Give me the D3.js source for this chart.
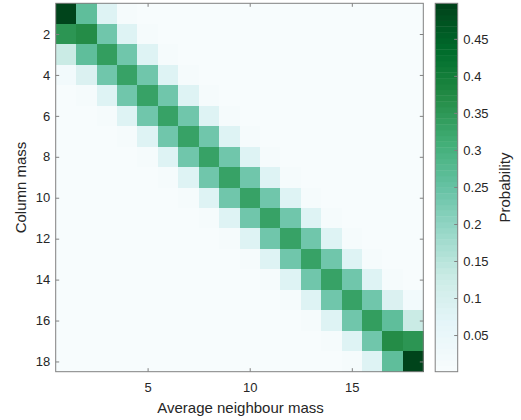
<!DOCTYPE html>
<html>
<head>
<meta charset="utf-8">
<script src="https://cdn.jsdelivr.net/npm/d3@7"></script>
<style>
  html, body { margin: 0; padding: 0; background: #fff; }
  svg { display: block; }
  text { font-family: "Liberation Sans", Arial, Helvetica, sans-serif; fill: #262626; }
</style>
</head>
<body>
<svg id="chart" width="521" height="420"></svg>
<script>
// Transition probabilities: rows = column mass (1..18), columns = average neighbour mass (1..18)
const columnMass = d3.range(1, 19);
const neighbourMass = d3.range(1, 19);
const probability = [
  [0.498,0.262,0.085,0.015,0.0013,0.0005,0.0005,0.0005,0.0005,0.0005,0.0005,0.0005,0.0005,0.0005,0.0005,0.0005,0.0005,0.0005],
  [0.354,0.370,0.240,0.083,0.015,0.0013,0.0005,0.0005,0.0005,0.0005,0.0005,0.0005,0.0005,0.0005,0.0005,0.0005,0.0005,0.0005],
  [0.125,0.262,0.338,0.236,0.083,0.015,0.0013,0.0005,0.0005,0.0005,0.0005,0.0005,0.0005,0.0005,0.0005,0.0005,0.0005,0.0005],
  [0.022,0.092,0.240,0.333,0.236,0.083,0.015,0.0013,0.0005,0.0005,0.0005,0.0005,0.0005,0.0005,0.0005,0.0005,0.0005,0.0005],
  [0.002,0.016,0.085,0.236,0.333,0.236,0.083,0.015,0.0013,0.0005,0.0005,0.0005,0.0005,0.0005,0.0005,0.0005,0.0005,0.0005],
  [0.0005,0.0015,0.015,0.083,0.236,0.333,0.236,0.083,0.015,0.0013,0.0005,0.0005,0.0005,0.0005,0.0005,0.0005,0.0005,0.0005],
  [0.0005,0.0005,0.0013,0.015,0.083,0.236,0.333,0.236,0.083,0.015,0.0013,0.0005,0.0005,0.0005,0.0005,0.0005,0.0005,0.0005],
  [0.0005,0.0005,0.0005,0.0013,0.015,0.083,0.236,0.333,0.236,0.083,0.015,0.0013,0.0005,0.0005,0.0005,0.0005,0.0005,0.0005],
  [0.0005,0.0005,0.0005,0.0005,0.0013,0.015,0.083,0.236,0.333,0.236,0.083,0.015,0.0013,0.0005,0.0005,0.0005,0.0005,0.0005],
  [0.0005,0.0005,0.0005,0.0005,0.0005,0.0013,0.015,0.083,0.236,0.333,0.236,0.083,0.015,0.0013,0.0005,0.0005,0.0005,0.0005],
  [0.0005,0.0005,0.0005,0.0005,0.0005,0.0005,0.0013,0.015,0.083,0.236,0.333,0.236,0.083,0.015,0.0013,0.0005,0.0005,0.0005],
  [0.0005,0.0005,0.0005,0.0005,0.0005,0.0005,0.0005,0.0013,0.015,0.083,0.236,0.333,0.236,0.083,0.015,0.0013,0.0005,0.0005],
  [0.0005,0.0005,0.0005,0.0005,0.0005,0.0005,0.0005,0.0005,0.0013,0.015,0.083,0.236,0.333,0.236,0.083,0.015,0.0015,0.0005],
  [0.0005,0.0005,0.0005,0.0005,0.0005,0.0005,0.0005,0.0005,0.0005,0.0013,0.015,0.083,0.236,0.333,0.236,0.085,0.016,0.002],
  [0.0005,0.0005,0.0005,0.0005,0.0005,0.0005,0.0005,0.0005,0.0005,0.0005,0.0013,0.015,0.083,0.236,0.333,0.240,0.092,0.022],
  [0.0005,0.0005,0.0005,0.0005,0.0005,0.0005,0.0005,0.0005,0.0005,0.0005,0.0005,0.0013,0.015,0.083,0.236,0.338,0.262,0.125],
  [0.0005,0.0005,0.0005,0.0005,0.0005,0.0005,0.0005,0.0005,0.0005,0.0005,0.0005,0.0005,0.0013,0.015,0.083,0.240,0.370,0.354],
  [0.0005,0.0005,0.0005,0.0005,0.0005,0.0005,0.0005,0.0005,0.0005,0.0005,0.0005,0.0005,0.0005,0.0013,0.015,0.085,0.262,0.498]
];
const xTicks = [5, 10, 15];
const yTicks = [2, 4, 6, 8, 10, 12, 14, 16, 18];
const colorTicks = [0.05, 0.1, 0.15, 0.2, 0.25, 0.3, 0.35, 0.4, 0.45];

const svg = d3.select("#chart");
const plot = { left: 55.7, right: 423.3, top: 3.3, bottom: 371.7 };
const bar = { left: 435.2, right: 457.7 };
const axisColor = "#808080";

const x = d3.scaleLinear().domain([0.5, 18.5]).range([plot.left, plot.right]);
const y = d3.scaleLinear().domain([0.5, 18.5]).range([plot.top, plot.bottom]);

// BuGn colormap, sampled into discrete levels like a 64-entry colormap
const extent = d3.extent(probability.flat());
const nodes = d3.schemeBuGn[9];
const ramp = d3.scaleLinear()
  .domain(d3.range(9).map(i => i / 8))
  .range(nodes)
  .interpolate(d3.interpolateRgb);
const levels = 64;
const color = v => {
  const t = (v - extent[0]) / (extent[1] - extent[0]);
  const k = Math.min(levels - 1, Math.max(0, Math.floor(t * levels)));
  return ramp(k / (levels - 1));
};

// Heatmap cells
const cells = [];
probability.forEach((row, i) => row.forEach((v, j) => cells.push({ r: columnMass[i], c: neighbourMass[j], v })));
svg.append("g").selectAll("rect").data(cells).join("rect")
  .attr("x", d => x(d.c - 0.5))
  .attr("y", d => y(d.r - 0.5))
  .attr("width", d => x(d.c + 0.5) - x(d.c - 0.5) + 0.3)
  .attr("height", d => y(d.r + 0.5) - y(d.r - 0.5) + 0.3)
  .attr("fill", d => color(d.v))
  .attr("shape-rendering", "crispEdges");

// Axes with inward ticks on all four sides
function styleAxis(g) {
  g.select(".domain").remove();
  g.selectAll(".tick line").attr("stroke", axisColor);
  g.selectAll(".tick text").attr("font-size", 13).attr("fill", "#262626")
    .attr("font-family", "'Liberation Sans', Arial, sans-serif");
}
svg.append("g").attr("transform", `translate(0,${plot.bottom})`)
  .call(d3.axisBottom(x).tickValues(xTicks).tickSizeInner(-3.5).tickSizeOuter(0).tickPadding(11))
  .call(styleAxis)
  .call(g => g.selectAll(".tick text").attr("y", 11));
svg.append("g").attr("transform", `translate(0,${plot.top})`)
  .call(d3.axisTop(x).tickValues(xTicks).tickSizeInner(-3.5).tickSizeOuter(0).tickFormat(""))
  .call(styleAxis);
svg.append("g").attr("transform", `translate(${plot.left},0)`)
  .call(d3.axisLeft(y).tickValues(yTicks).tickSizeInner(-3.5).tickSizeOuter(0).tickPadding(5.5))
  .call(styleAxis)
  .call(g => g.selectAll(".tick text").attr("x", -5.5));
svg.append("g").attr("transform", `translate(${plot.right},0)`)
  .call(d3.axisRight(y).tickValues(yTicks).tickSizeInner(-3.5).tickSizeOuter(0).tickFormat(""))
  .call(styleAxis);

svg.append("rect")
  .attr("x", plot.left).attr("y", plot.top)
  .attr("width", plot.right - plot.left).attr("height", plot.bottom - plot.top)
  .attr("fill", "none").attr("stroke", axisColor).attr("stroke-width", 1);

// Axis titles
svg.append("text")
  .attr("x", (plot.left + plot.right) / 2 + 1).attr("y", 413.3)
  .attr("text-anchor", "middle").attr("font-size", 15)
  .text("Average neighbour mass");
svg.append("text")
  .attr("transform", `translate(26,${(plot.top + plot.bottom) / 2}) rotate(-90)`)
  .attr("text-anchor", "middle").attr("font-size", 15)
  .text("Column mass");

// Colorbar
const cy = d3.scaleLinear().domain(extent).range([plot.bottom, plot.top]);
const stripes = d3.range(levels);
const stripeH = (plot.bottom - plot.top) / levels;
svg.append("g").selectAll("rect").data(stripes).join("rect")
  .attr("x", bar.left)
  .attr("y", k => plot.bottom - (k + 1) * stripeH)
  .attr("width", bar.right - bar.left)
  .attr("height", stripeH + 0.4)
  .attr("fill", k => ramp(k / (levels - 1)));
svg.append("g").attr("transform", `translate(${bar.right},0)`)
  .call(d3.axisRight(cy).tickValues(colorTicks).tickFormat(d3.format("~g"))
    .tickSizeInner(-3.5).tickSizeOuter(0).tickPadding(5.5))
  .call(styleAxis)
  .call(g => g.selectAll(".tick text").attr("x", 5.6));
svg.append("rect")
  .attr("x", bar.left).attr("y", plot.top)
  .attr("width", bar.right - bar.left).attr("height", plot.bottom - plot.top)
  .attr("fill", "none").attr("stroke", axisColor).attr("stroke-width", 1);
svg.append("text")
  .attr("transform", `translate(509.5,${(plot.top + plot.bottom) / 2}) rotate(-90)`)
  .attr("text-anchor", "middle").attr("font-size", 15)
  .text("Probability");
</script>
</body>
</html>
